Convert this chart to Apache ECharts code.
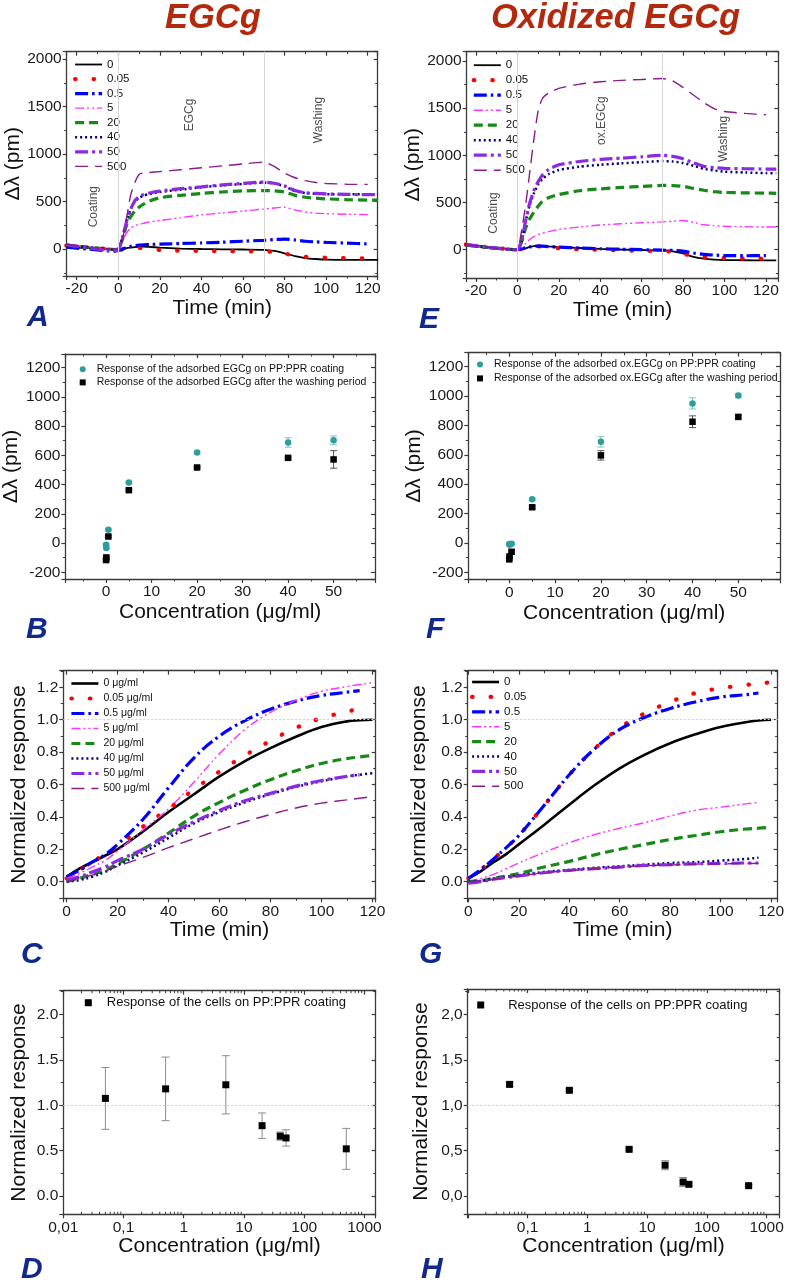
<!DOCTYPE html>
<html><head><meta charset="utf-8">
<script src="https://cdn.jsdelivr.net/npm/echarts@6/dist/echarts.min.js"></script>
<style>html,body{margin:0;padding:0;background:#fff}#c{width:787px;height:1282px}</style>
</head><body><div id="c"></div>
<script>
// ---------------- DATA ----------------
const seriesLabels = ['0', '0.05', '0.5', '5', '20', '40', '50', '500'];

// Panel A (EGCg, delta lambda vs time)
const timeA = [-25,-20,-15,-10,-5,-2,0,2,4,6,8,10,12,15,20,30,40,50,60,70,75,80,85,90,95,100,110,120,125];
const a_0   = [25,15,10,5,0,-5,-5, 0,10,15,20,25,25,22, 15,5,0,-3,-5,-8, -20,-45,-75,-95,-105,-112, -115,-115,-115];
const a_005 = [35,25,15,8,0,-5,-8, -5,0,5,8,10,10,5, -10,-18,-20,-22,-24,-26, -32,-48,-70,-82,-88,-92, -96,-98,null];
const a_05  = [20,10,0,-10,-20,-22,-15, 0,15,28,36,42,45,48, 52,58,64,72,82,92, 100,105,95,82,75,70, 62,54,null];
const a_5   = [45,30,20,10,0,-5,-2, 90,170,220,245,260,270,285, 300,330,360,380,400,420, 432,440,412,390,378,372, 366,362,null];
const a_20  = [40,30,20,10,0,-5,0, 100,250,340,400,440,470,505, 540,565,585,600,612,615, 612,600,565,545,535,528, 520,515,515];
const a_40  = [40,30,20,10,0,-5,0, 120,300,420,500,540,560,580, 600,625,650,670,685,700, 690,660,610,590,582,578, 575,577,578];
const a_50  = [45,30,15,0,-15,-20,-10, 110,290,420,510,550,570,590, 610,635,655,675,690,705, 692,665,615,592,585,580, 575,572,572];
const a_500 = [50,35,20,10,0,0,10, 100,330,570,700,785,800,805, 815,835,855,875,895,915, 870,800,750,720,700,690, 682,680,null];

// Panel E (oxidized EGCg)
const timeE = timeA;
const e_0   = [55,40,28,18,8,3,0, 5,15,30,38,42,40,35, 28,18,8,2,-3,-8, -18,-40,-75,-95,-105,-110, -112,-113,-113];
const e_005 = [55,40,28,18,8,3,0, 8,18,28,35,35,32,25, 15,5,-2,-8,-12,-15, -22,-45,-65,-78,-86,-90, -94,-96,null];
const e_05  = [50,38,25,15,5,0,0, 10,20,30,36,38,37,33, 27,18,10,5,0,-5, -8,-15,-35,-50,-57,-62, -64,-62,null];
const e_5   = [50,38,25,15,5,0,0, 20,65,110,140,160,175,192, 215,240,262,275,285,295, 302,310,290,265,255,248, 243,240,240];
const e_20  = [52,40,27,16,6,1,0, 80,230,330,400,460,510,550, 585,625,645,660,670,682, 680,672,650,630,615,607, 602,600,598];
const e_40  = [52,40,27,16,6,1,0, 100,300,480,600,690,750,800, 845,880,900,915,928,940, 935,920,890,858,840,828, 818,812,810];
const e_50  = [55,42,28,16,6,1,0, 100,310,500,630,720,790,850, 900,935,958,970,985,1000, 990,965,920,885,870,862, 858,855,855];
const e_500 = [55,42,28,16,6,1,0, 200,480,830,1180,1470,1600,1660, 1710,1755,1780,1795,1805,1815, 1790,1720,1640,1560,1495,1465, 1445,1430,null];

// Phase annotations (A, E)
const phaseLines = [0, 70];
const annA = [{t:'Coating', x:-11.7, y:446}, {t:'EGCg', x:34.5, y:1411}, {t:'Washing', x:96.6, y:1358}];
const annE = [{t:'Coating', x:-11.3, y:388}, {t:'ox.EGCg', x:40.7, y:1368}, {t:'Washing', x:99.7, y:1174}];

// Panels B, F (adsorbed response vs concentration)
const concBF = [0, 0.05, 0.5, 5, 20, 40, 50];
const b_ads = [-11, -34, 91, 414, 619, 688, 703];
const b_adsErr = [6, 6, 6, 8, 8, 32, 30];
const b_wash = [-116, -98, 45, 362, 517, 583, 572];
const b_washErr = [6, 6, 6, 6, 6, 8, 60];
const f_ads = [-8, -12, -5, 297, 688, 950, 1003];
const f_adsErr = [6, 6, 6, 8, 35, 38, 15];
const f_wash = [-112, -92, -60, 243, 596, 825, 858];
const f_washErr = [8, 8, 8, 8, 32, 40, 12];

// Panels C, G (normalized cell response vs time)
const timeC = [0,5,10,15,20,30,40,50,60,70,80,90,100,110,115,120];
const c_0   = [0.03,0.08,0.12,0.16,0.2,0.31,0.43,0.54,0.65,0.745,0.825,0.895,0.955,0.99,0.997,1.0];
const c_005 = [0.02,0.07,0.12,0.17,0.22,0.34,0.45,0.57,0.68,0.78,0.87,0.95,1.01,1.05,1.07,null];
const c_05  = [0.03,0.07,0.12,0.165,0.23,0.385,0.58,0.765,0.9,0.995,1.065,1.115,1.15,1.17,1.18,null];
const c_5   = [0.02,0.05,0.09,0.13,0.19,0.32,0.45,0.615,0.79,0.94,1.045,1.12,1.175,1.205,1.218,1.228];
const c_20  = [0,0.02,0.045,0.07,0.11,0.2,0.3,0.405,0.49,0.565,0.63,0.685,0.73,0.76,0.77,0.78];
const c_40  = [0,0.01,0.03,0.06,0.1,0.18,0.27,0.36,0.43,0.49,0.54,0.585,0.62,0.65,0.66,0.67];
const c_50  = [0.01,0.03,0.06,0.09,0.13,0.2,0.29,0.37,0.44,0.5,0.545,0.59,0.625,0.65,0.66,null];
const c_500 = [0,0.02,0.04,0.065,0.095,0.15,0.21,0.265,0.32,0.37,0.415,0.455,0.485,0.505,0.515,0.525];

const timeG = timeC;
const g_0   = [0.02,0.065,0.12,0.17,0.23,0.35,0.475,0.595,0.7,0.785,0.855,0.91,0.955,0.985,0.995,1.0];
const g_005 = [0.02,0.075,0.14,0.21,0.285,0.47,0.66,0.82,0.95,1.04,1.11,1.165,1.195,1.215,1.225,1.23];
const g_05  = [0.02,0.075,0.14,0.21,0.285,0.47,0.66,0.82,0.94,1.015,1.07,1.11,1.14,1.155,1.165,null];
const g_5   = [0,0.02,0.045,0.08,0.115,0.18,0.24,0.29,0.33,0.365,0.405,0.44,0.46,0.48,0.49,null];
const g_20  = [0,0.005,0.02,0.035,0.05,0.09,0.125,0.165,0.2,0.23,0.26,0.285,0.308,0.325,0.33,0.335];
const g_40  = [0,0.005,0.02,0.03,0.04,0.06,0.072,0.085,0.095,0.105,0.115,0.12,0.13,0.14,0.148,null];
const g_50  = [-0.01,0,0.015,0.025,0.035,0.055,0.07,0.08,0.09,0.1,0.105,0.11,0.112,0.115,0.115,null];
const g_500 = [0,0.005,0.015,0.025,0.035,0.055,0.068,0.08,0.09,0.098,0.103,0.108,0.11,0.112,0.113,null];

// Panels D, H (normalized response vs concentration, log scale)
const concDH = [0.05, 0.5, 5, 20, 40, 50, 500];
const d_resp = [1.075, 1.18, 1.225, 0.775, 0.66, 0.64, 0.52];
const d_err  = [0.34, 0.35, 0.32, 0.14, 0.045, 0.09, 0.225];
const h_resp = [1.23, 1.165, 0.515, 0.34, 0.155, 0.13, 0.115];
const h_err  = [0.02, 0.015, 0.015, 0.05, 0.05, 0.015, 0.015];
const refLevel = 1.0;
const logMinorMultipliers = [2, 3, 4, 5, 6, 7, 8, 9];

// ---------------- STYLE ----------------
const FONT = "'Liberation Sans', Arial, Helvetica, sans-serif";
const AX = '#3a3a3a';
const TEAL = '#2e9e9a';
const LINE_STYLE = {
  '0':    {color:'#000000', type:'solid', width:1.8},
  '0.05': {color:'#ff0000', type:[0.5, 18], width:4.2, cap:'round'},
  '0.5':  {color:'#0000ff', type:[13,4,2.5,4], width:3.2},
  '5':    {color:'#ff33ff', type:[9,3,2,3,2,3], width:1.4},
  '20':   {color:'#168a16', type:[9,5], width:3.2},
  '40':   {color:'#000080', type:[2,3], width:2.5},
  '50':   {color:'#8a2be2', type:[13,4,3,4], width:3.2},
  '500':  {color:'#8b1a8b', type:[13,7], width:1.4}
};

function isMult(v, s) { return Math.abs(v / s - Math.round(v / s)) < 1e-6; }
function fmtStep(s, dec, comma) {
  return function (v) {
    if (!isMult(v, s)) return '';
    let t = (Math.abs(v) < 1e-9 ? 0 : v).toFixed(dec);
    return comma ? t.replace('.', ',') : t;
  };
}
function fmtLog(minExp) {
  return function (v) {
    const l = Math.log10(v);
    if (Math.abs(l - Math.round(l)) > 1e-6) return '';
    const e = Math.round(l);
    if (e < minExp) return '';
    return e < 0 ? ('0,' + '0'.repeat(-e - 1) + '1') : String(Math.pow(10, e));
  };
}

const grids = [], xAxes = [], yAxes = [], series = [], legends = [], titles = [];

function axis(gi, type, r, step, minor, pos, main, fmt, name, gap) {
  const a = {
    gridIndex: gi, type: type, min: r[0], max: r[1], position: pos,
    splitLine: {show: false}, silent: true,
    axisLine: {show: true, onZero: false, lineStyle: {color: AX, width: 1.3}},
    axisTick: {show: true, inside: !main, length: 4, lineStyle: {color: AX, width: 1.2}},
    minorTick: {show: type === 'value' && minor > 1, splitNumber: minor || 2, length: 2.5, lineStyle: {color: AX, width: 1}},
    axisLabel: main ? {show: true, margin: 5, fontSize: 15.5, color: '#1a1a1a', fontFamily: FONT, formatter: fmt} : {show: false}
  };
  if (type === 'value') { a.minInterval = step; a.maxInterval = step; }
  else { a.logBase = 10; }
  if (main && name) {
    a.name = name; a.nameLocation = 'middle'; a.nameGap = gap;
    a.nameTextStyle = {fontSize: 21, color: '#111', fontFamily: FONT};
  }
  return a;
}

function panel(p) {
  const gi = grids.length;
  grids.push({left: p.box[0], top: p.box[1], width: p.box[2], height: p.box[3]});
  const xi = xAxes.length, yi = yAxes.length;
  xAxes.push(axis(gi, p.xType || 'value', p.xr, p.xs, p.xm, 'bottom', true, p.xf, p.xName, p.xGap));
  xAxes.push(axis(gi, p.xType || 'value', p.xr, p.xs, p.xm, 'top', false));
  yAxes.push(axis(gi, 'value', p.yr, p.ys, p.ym, 'left', true, p.yf, p.yName, p.yGap));
  yAxes.push(axis(gi, 'value', p.yr, p.ys, p.ym, 'right', false));
  return {xi: xi, yi: yi};
}

function lineWidthOf(label, wScale) { return LINE_STYLE[label].width * (label === '0' ? wScale : 1); }

function lineSeries(id, ax, times, label, values, disp, wScale, smooth) {
  const st = LINE_STYLE[label];
  const data = [];
  times.forEach(function (t, i) { if (values[i] !== null) data.push([t, values[i]]); });
  return {
    type: 'line', name: id + '|' + disp, xAxisIndex: ax.xi, yAxisIndex: ax.yi, data: data,
    symbol: 'none', showSymbol: false, smooth: smooth, silent: true, z: 3,
    lineStyle: {color: st.color, type: st.type, width: lineWidthOf(label, wScale), cap: st.cap || 'butt'},
    itemStyle: {color: st.color}
  };
}

function lineLegend(id, left, top, gap, fs, suffix, wScale) {
  legends.push({
    left: left, top: top, orient: 'vertical', itemWidth: 27, itemHeight: 10, itemGap: gap, padding: 0,
    selectedMode: false, itemStyle: {opacity: 0},
    textStyle: {fontSize: fs, color: '#111', fontFamily: FONT},
    data: seriesLabels.map(function (l) {
      return {name: id + '|' + l + suffix,
        lineStyle: {width: lineWidthOf(l, wScale), cap: LINE_STYLE[l].cap || 'butt', type: LINE_STYLE[l].type, color: LINE_STYLE[l].color}};
    }),
    formatter: function (n) { return n.split('|')[1]; }
  });
}

function annotations(ax, ann) {
  series.push({
    type: 'scatter', xAxisIndex: ax.xi, yAxisIndex: ax.yi, silent: true, z: 1,
    symbolSize: 1, itemStyle: {color: 'rgba(0,0,0,0)'},
    data: ann.map(function (a) { return {value: [a.x, a.y], label: {formatter: a.t}}; }),
    label: {show: true, position: 'inside', rotate: 90, fontSize: 12, color: '#222', fontFamily: FONT},
    markLine: {silent: true, symbol: ['none', 'none'], label: {show: false}, animation: false,
      lineStyle: {color: '#d6d6d6', width: 1, type: 'solid'},
      data: phaseLines.map(function (v) { return {xAxis: v}; })}
  });
}

function refLine() {
  return {silent: true, symbol: ['none', 'none'], label: {show: false}, animation: false,
    lineStyle: {color: '#cfcfcf', width: 1, type: [2, 2]}, data: [{yAxis: refLevel}]};
}

function errSeries(ax, xs, ms, es, color, cap) {
  return {
    type: 'custom', xAxisIndex: ax.xi, yAxisIndex: ax.yi, silent: true, z: 2,
    data: xs.map(function (x, i) { return [x, ms[i] - es[i], ms[i] + es[i]]; }),
    renderItem: function (params, api) {
      const x = api.value(0);
      const lo = api.coord([x, api.value(1)]), hi = api.coord([x, api.value(2)]);
      const st = {stroke: color, lineWidth: 1};
      return {type: 'group', children: [
        {type: 'line', shape: {x1: lo[0], y1: lo[1], x2: hi[0], y2: hi[1]}, style: st},
        {type: 'line', shape: {x1: lo[0] - cap, y1: lo[1], x2: lo[0] + cap, y2: lo[1]}, style: st},
        {type: 'line', shape: {x1: hi[0] - cap, y1: hi[1], x2: hi[0] + cap, y2: hi[1]}, style: st}
      ]};
    }
  };
}

// minor ticks for log axes (2..9 x decade), drawn inside on bottom and top edges
function logMinorTicks(ax, range) {
  const pts = [];
  for (let e = -3; e <= 4; e++) {
    logMinorMultipliers.forEach(function (m) {
      const v = m * Math.pow(10, e);
      if (v > range[0] && v < range[1]) pts.push([v, 1]);
    });
  }
  return {
    type: 'custom', xAxisIndex: ax.xi, yAxisIndex: ax.yi, silent: true, z: 5, clip: false, data: pts,
    renderItem: function (params, api) {
      const cs = params.coordSys;
      const x = api.coord([api.value(0), api.value(1)])[0];
      const st = {stroke: AX, lineWidth: 1};
      return {type: 'group', children: [
        {type: 'line', shape: {x1: x, y1: cs.y + cs.height, x2: x, y2: cs.y + cs.height - 2.5}, style: st},
        {type: 'line', shape: {x1: x, y1: cs.y, x2: x, y2: cs.y + 2.5}, style: st}
      ]};
    }
  };
}

function scatterSeries(ax, name, xs, ys, symbol, size, color, extra) {
  const s = {type: 'scatter', name: name, xAxisIndex: ax.xi, yAxisIndex: ax.yi, silent: true, z: 4,
    symbol: symbol, symbolSize: size, itemStyle: {color: color, opacity: 1},
    data: xs.map(function (x, i) { return [x, ys[i]]; })};
  return Object.assign(s, extra || {});
}

// ---------- Panel A ----------
const axA = panel({box: [66.7, 51.7, 311, 224.3], xr: [-24.8, 124.8], xs: 20, xm: 2, xf: fmtStep(20, 0),
  yr: [-284, 2077], ys: 500, ym: 2, yf: fmtStep(500, 0), xName: 'Time (min)', xGap: 17, yName: 'Δλ (pm)', yGap: 38});
annotations(axA, annA);
[a_0, a_005, a_05, a_5, a_20, a_40, a_50, a_500].forEach(function (v, i) {
  series.push(lineSeries('A', axA, timeA, seriesLabels[i], v, seriesLabels[i], 1, 0.2));
});
lineLegend('A', 73, 58.5, 2.55, 11.5, '', 1);

// ---------- Panel E ----------
const axE = panel({box: [466.7, 51.7, 311.6, 226.3], xr: [-24.5, 126], xs: 20, xm: 2, xf: fmtStep(20, 0),
  yr: [-300, 2099], ys: 500, ym: 2, yf: fmtStep(500, 0), xName: 'Time (min)', xGap: 16, yName: 'Δλ (pm)', yGap: 38});
annotations(axE, annE);
[e_0, e_005, e_05, e_5, e_20, e_40, e_50, e_500].forEach(function (v, i) {
  series.push(lineSeries('E', axE, timeE, seriesLabels[i], v, seriesLabels[i], 1, 0.2));
});
lineLegend('E', 471.7, 59.2, 3.0, 11.5, '', 1);

// ---------- Panel B ----------
const axB = panel({box: [63.3, 354, 311.7, 225], xr: [-8.95, 59.1], xs: 10, xm: 2, xf: fmtStep(10, 0),
  yr: [-245.5, 1293], ys: 200, ym: 2, yf: fmtStep(200, 0), xName: 'Concentration (μg/ml)', xGap: 23, yName: 'Δλ (pm)', yGap: 35});
const nB1 = 'Response of the adsorbed EGCg on PP:PPR coating';
const nB2 = 'Response of the adsorbed EGCg after the washing period';
series.push(errSeries(axB, concBF, b_ads, b_adsErr, '#7fc4c2', 3.5));
series.push(errSeries(axB, concBF, b_wash, b_washErr, '#555555', 3.5));
series.push(scatterSeries(axB, nB1, concBF, b_ads, 'circle', 6.5, TEAL));
series.push(scatterSeries(axB, nB2, concBF, b_wash, 'rect', 6.5, '#000'));
legends.push({left: 79.7, top: 363.7, orient: 'vertical', itemWidth: 6, itemHeight: 6, itemGap: 2.2, padding: 0,
  selectedMode: false, textStyle: {fontSize: 10.5, color: '#111', fontFamily: FONT, padding: [0, 0, 0, 6]}, data: [nB1, nB2]});

// ---------- Panel F ----------
const axF = panel({box: [468.3, 352.7, 311.7, 226.6], xr: [-8.95, 59.1], xs: 10, xm: 2, xf: fmtStep(10, 0),
  yr: [-247.6, 1295], ys: 200, ym: 2, yf: fmtStep(200, 0), xName: 'Concentration (μg/ml)', xGap: 23, yName: 'Δλ (pm)', yGap: 39});
const nF1 = 'Response of the adsorbed ox.EGCg on PP:PPR coating';
const nF2 = 'Response of the adsorbed ox.EGCg after the washing period';
series.push(errSeries(axF, concBF, f_ads, f_adsErr, '#7fc4c2', 3.5));
series.push(errSeries(axF, concBF, f_wash, f_washErr, '#555555', 3.5));
series.push(scatterSeries(axF, nF1, concBF, f_ads, 'circle', 6.5, TEAL));
series.push(scatterSeries(axF, nF2, concBF, f_wash, 'rect', 6.5, '#000'));
legends.push({left: 477, top: 359, orient: 'vertical', itemWidth: 6, itemHeight: 6, itemGap: 2.9, padding: 0,
  selectedMode: false, textStyle: {fontSize: 10.5, color: '#111', fontFamily: FONT, padding: [0, 0, 0, 6]}, data: [nF1, nF2]});

// ---------- Panel C ----------
const axC = panel({box: [63.3, 670.7, 312.4, 227.6], xr: [-1.3, 121.3], xs: 20, xm: 2, xf: fmtStep(20, 0),
  yr: [-0.103, 1.303], ys: 0.2, ym: 2, yf: fmtStep(0.2, 1), xName: 'Time (min)', xGap: 21, yName: 'Normalized response', yGap: 34});
[c_0, c_005, c_05, c_5, c_20, c_40, c_50, c_500].forEach(function (v, i) {
  const s = lineSeries('C', axC, timeC, seriesLabels[i], v, seriesLabels[i] + ' μg/ml', 1.45, 0.4);
  if (i === 0) s.markLine = refLine();
  series.push(s);
});
lineLegend('C', 69.3, 678, 4.0, 10.5, ' μg/ml', 1.45);

// ---------- Panel G ----------
const axG = panel({box: [467.7, 670.7, 310.6, 227.6], xr: [-0.26, 122.6], xs: 20, xm: 2, xf: fmtStep(20, 0),
  yr: [-0.103, 1.303], ys: 0.2, ym: 2, yf: fmtStep(0.2, 1), xName: 'Time (min)', xGap: 21, yName: 'Normalized response', yGap: 38});
[g_0, g_005, g_05, g_5, g_20, g_40, g_50, g_500].forEach(function (v, i) {
  const s = lineSeries('G', axG, timeG, seriesLabels[i], v, seriesLabels[i], 1.45, 0.4);
  if (i === 0) s.markLine = refLine();
  series.push(s);
});
lineLegend('G', 470, 676, 2.9, 11.5, '', 1.45);

// ---------- Panel D ----------
const rangeD = [0.01, 1540];
const axD = panel({box: [63.3, 990.7, 312.4, 223.6], xType: 'log', xr: rangeD, xs: 1, xm: 0, xf: fmtLog(-2),
  yr: [-0.2, 2.26], ys: 0.5, ym: 2, yf: fmtStep(0.5, 1), xName: 'Concentration (μg/ml)', xGap: 17, yName: 'Normalized response', yGap: 34});
const nD = 'Response of the cells on PP:PPR coating';
series.push(logMinorTicks(axD, rangeD));
series.push(errSeries(axD, concDH, d_resp, d_err, '#8c8c8c', 4));
series.push(scatterSeries(axD, nD, concDH, d_resp, 'rect', 7, '#000', {markLine: refLine()}));
legends.push({left: 84.8, top: 996.2, orient: 'vertical', itemWidth: 7, itemHeight: 7, padding: 0,
  selectedMode: false, textStyle: {fontSize: 13, color: '#111', fontFamily: FONT, padding: [0, 0, 0, 10]}, data: [nD]});

// ---------- Panel H ----------
const rangeH = [0.00995, 1630];
const axH = panel({box: [467.7, 989, 311.6, 225.3], xType: 'log', xr: rangeH, xs: 1, xm: 0, xf: fmtLog(-1),
  yr: [-0.2, 2.28], ys: 0.5, ym: 2, yf: fmtStep(0.5, 1, true), xName: 'Concentration (μg/ml)', xGap: 20, yName: 'Normalized response', yGap: 36});
const nH = 'H|Response of the cells on PP:PPR coating';
series.push(logMinorTicks(axH, rangeH));
series.push(errSeries(axH, concDH, h_resp, h_err, '#8c8c8c', 4));
series.push(scatterSeries(axH, nH, concDH, h_resp, 'rect', 7, '#000', {markLine: refLine()}));
legends.push({left: 477.2, top: 998.5, orient: 'vertical', itemWidth: 7, itemHeight: 7, padding: 0,
  selectedMode: false, textStyle: {fontSize: 13, color: '#111', fontFamily: FONT, padding: [0, 0, 0, 19]}, data: [nH],
  formatter: function (n) { return n.split('|')[1]; }});

// ---------- Titles and panel letters ----------
const headStyle = {fontFamily: FONT, fontSize: 34.5, fontStyle: 'italic', fontWeight: 'bold', color: '#b3290d'};
titles.push({text: 'EGCg', left: 165, top: 1, padding: 0, textStyle: headStyle});
titles.push({text: 'Oxidized EGCg', left: 491, top: 1, padding: 0, textStyle: headStyle});
const letterStyle = {fontFamily: FONT, fontSize: 30, fontStyle: 'italic', fontWeight: 'bold', color: '#10298a'};
[['A', 27, 303], ['E', 419, 305], ['B', 26, 615], ['F', 426, 615], ['C', 21, 940], ['G', 419, 940], ['D', 21, 1255], ['H', 421, 1255]]
  .forEach(function (L) { titles.push({text: L[0], left: L[1], top: L[2], padding: 0, textStyle: letterStyle}); });

const chart = echarts.init(document.getElementById('c'), null, {renderer: 'canvas'});
chart.setOption({
  animation: false, backgroundColor: '#ffffff',
  title: titles, grid: grids, xAxis: xAxes, yAxis: yAxes, legend: legends, series: series
});
</script></body></html>
